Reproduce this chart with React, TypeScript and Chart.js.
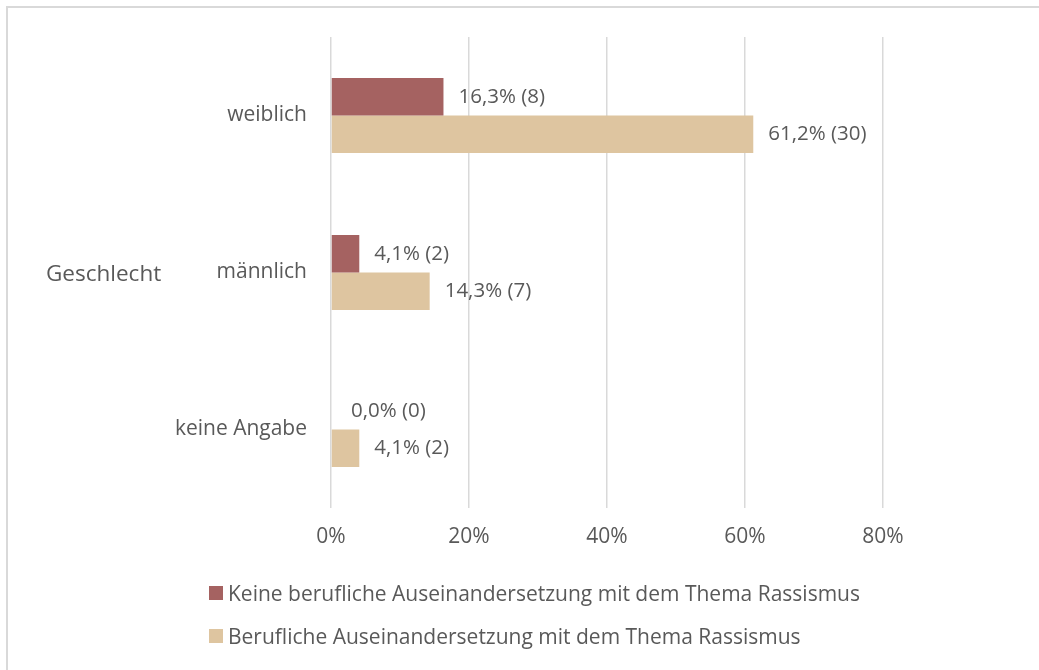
import React, { useEffect, useRef } from "react";
import { Chart, registerables } from "chart.js";

Chart.register(...registerables);

const categories = ["weiblich", "männlich", "keine Angabe"];
const seriesNames = [
  "Keine berufliche Auseinandersetzung mit dem Thema Rassismus",
  "Berufliche Auseinandersetzung mit dem Thema Rassismus",
];
const keinePercent = [16.3, 4.1, 0.0];
const keineCount = [8, 2, 0];
const beruflichPercent = [61.2, 14.3, 4.1];
const beruflichCount = [30, 7, 2];
const xTicks = [0, 20, 40, 60, 80];

const RED = "#A56261";
const BEIGE = "#DEC5A0";
const TEXT = "#595959";
const FONT = "'Open Sans', sans-serif";

const counts = [keineCount, beruflichCount];

const labelPlugin = {
  id: "barLabels",
  afterDatasetsDraw(chart: any) {
    const ctx = chart.ctx;
    ctx.save();
    ctx.fillStyle = TEXT;
    ctx.font = `20.5px ${FONT}`;
    ctx.textBaseline = "middle";
    ctx.textAlign = "left";
    chart.data.datasets.forEach((ds: any, di: number) => {
      const meta = chart.getDatasetMeta(di);
      meta.data.forEach((el: any, i: number) => {
        const v = ds.data[i] as number;
        const txt = `${v.toFixed(1).replace(".", ",")}% (${counts[di][i]})`;
        const off = v === 0 ? 20 : 15;
        ctx.fillText(txt, el.x + off, el.y);
      });
    });
    ctx.restore();
  },
};

export default function App() {
  const ref = useRef<HTMLCanvasElement | null>(null);
  useEffect(() => {
    if (!ref.current) return;
    const chart = new Chart(ref.current, {
      type: "bar",
      data: {
        labels: categories,
        datasets: [
          {
            label: seriesNames[0],
            data: keinePercent,
            backgroundColor: RED,
            barPercentage: 1,
            categoryPercentage: 0.478,
          },
          {
            label: seriesNames[1],
            data: beruflichPercent,
            backgroundColor: BEIGE,
            barPercentage: 1,
            categoryPercentage: 0.478,
          },
        ],
      },
      options: {
        indexAxis: "y",
        animation: false,
        responsive: false,
        maintainAspectRatio: false,
        layout: { padding: { top: 37, right: 156, left: 0, bottom: 0 } },
        plugins: {
          legend: { display: false },
          tooltip: { enabled: false },
        },
        scales: {
          x: {
            min: 0,
            max: 80,
            afterBuildTicks(scale: any) {
              scale.ticks = xTicks.map((v) => ({ value: v }));
            },
            afterFit(scale: any) {
              scale.height = 162;
            },
            ticks: {
              color: TEXT,
              font: { family: FONT, size: 21 },
              padding: 16,
              callback: (v: any) => `${v}%`,
            },
            grid: { color: "#D9D9D9", lineWidth: 1.5, drawTicks: false },
            border: { display: false },
          },
          y: {
            afterFit(scale: any) {
              scale.width = 331;
            },
            ticks: {
              color: TEXT,
              font: { family: FONT, size: 21 },
              padding: 24,
            },
            grid: { display: false, drawTicks: false },
            border: { display: false },
          },
        },
      },
      plugins: [labelPlugin],
    });
    return () => chart.destroy();
  }, []);

  const legendItem = (color: string, text: string, center: number) => (
    <div
      style={{
        position: "absolute",
        left: 209,
        top: center - 15,
        height: 30,
        display: "flex",
        alignItems: "center",
        fontFamily: FONT,
        fontSize: 21,
        color: TEXT,
        whiteSpace: "nowrap",
      }}
    >
      <span
        style={{
          display: "inline-block",
          width: 14,
          height: 14,
          background: color,
          marginRight: 5,
        }}
      />
      {text}
    </div>
  );

  return (
    <div
      style={{
        position: "absolute",
        left: 0,
        top: 0,
        width: 1039,
        height: 670,
        background: "#fff",
        overflow: "hidden",
      }}
    >
      <div
        style={{
          position: "absolute",
          left: 6,
          top: 6,
          width: 1060,
          height: 700,
          border: "2px solid #D9D9D9",
          boxSizing: "border-box",
        }}
      />
      <canvas ref={ref} width={1039} height={670} style={{ position: "absolute", left: 0, top: 0 }} />
      <div
        style={{
          position: "absolute",
          left: 46,
          top: 273 - 16,
          height: 32,
          lineHeight: "32px",
          fontFamily: FONT,
          fontSize: 22.5,
          color: TEXT,
        }}
      >
        Geschlecht
      </div>
      {legendItem(RED, seriesNames[0], 593)}
      {legendItem(BEIGE, seriesNames[1], 636)}
    </div>
  );
}
